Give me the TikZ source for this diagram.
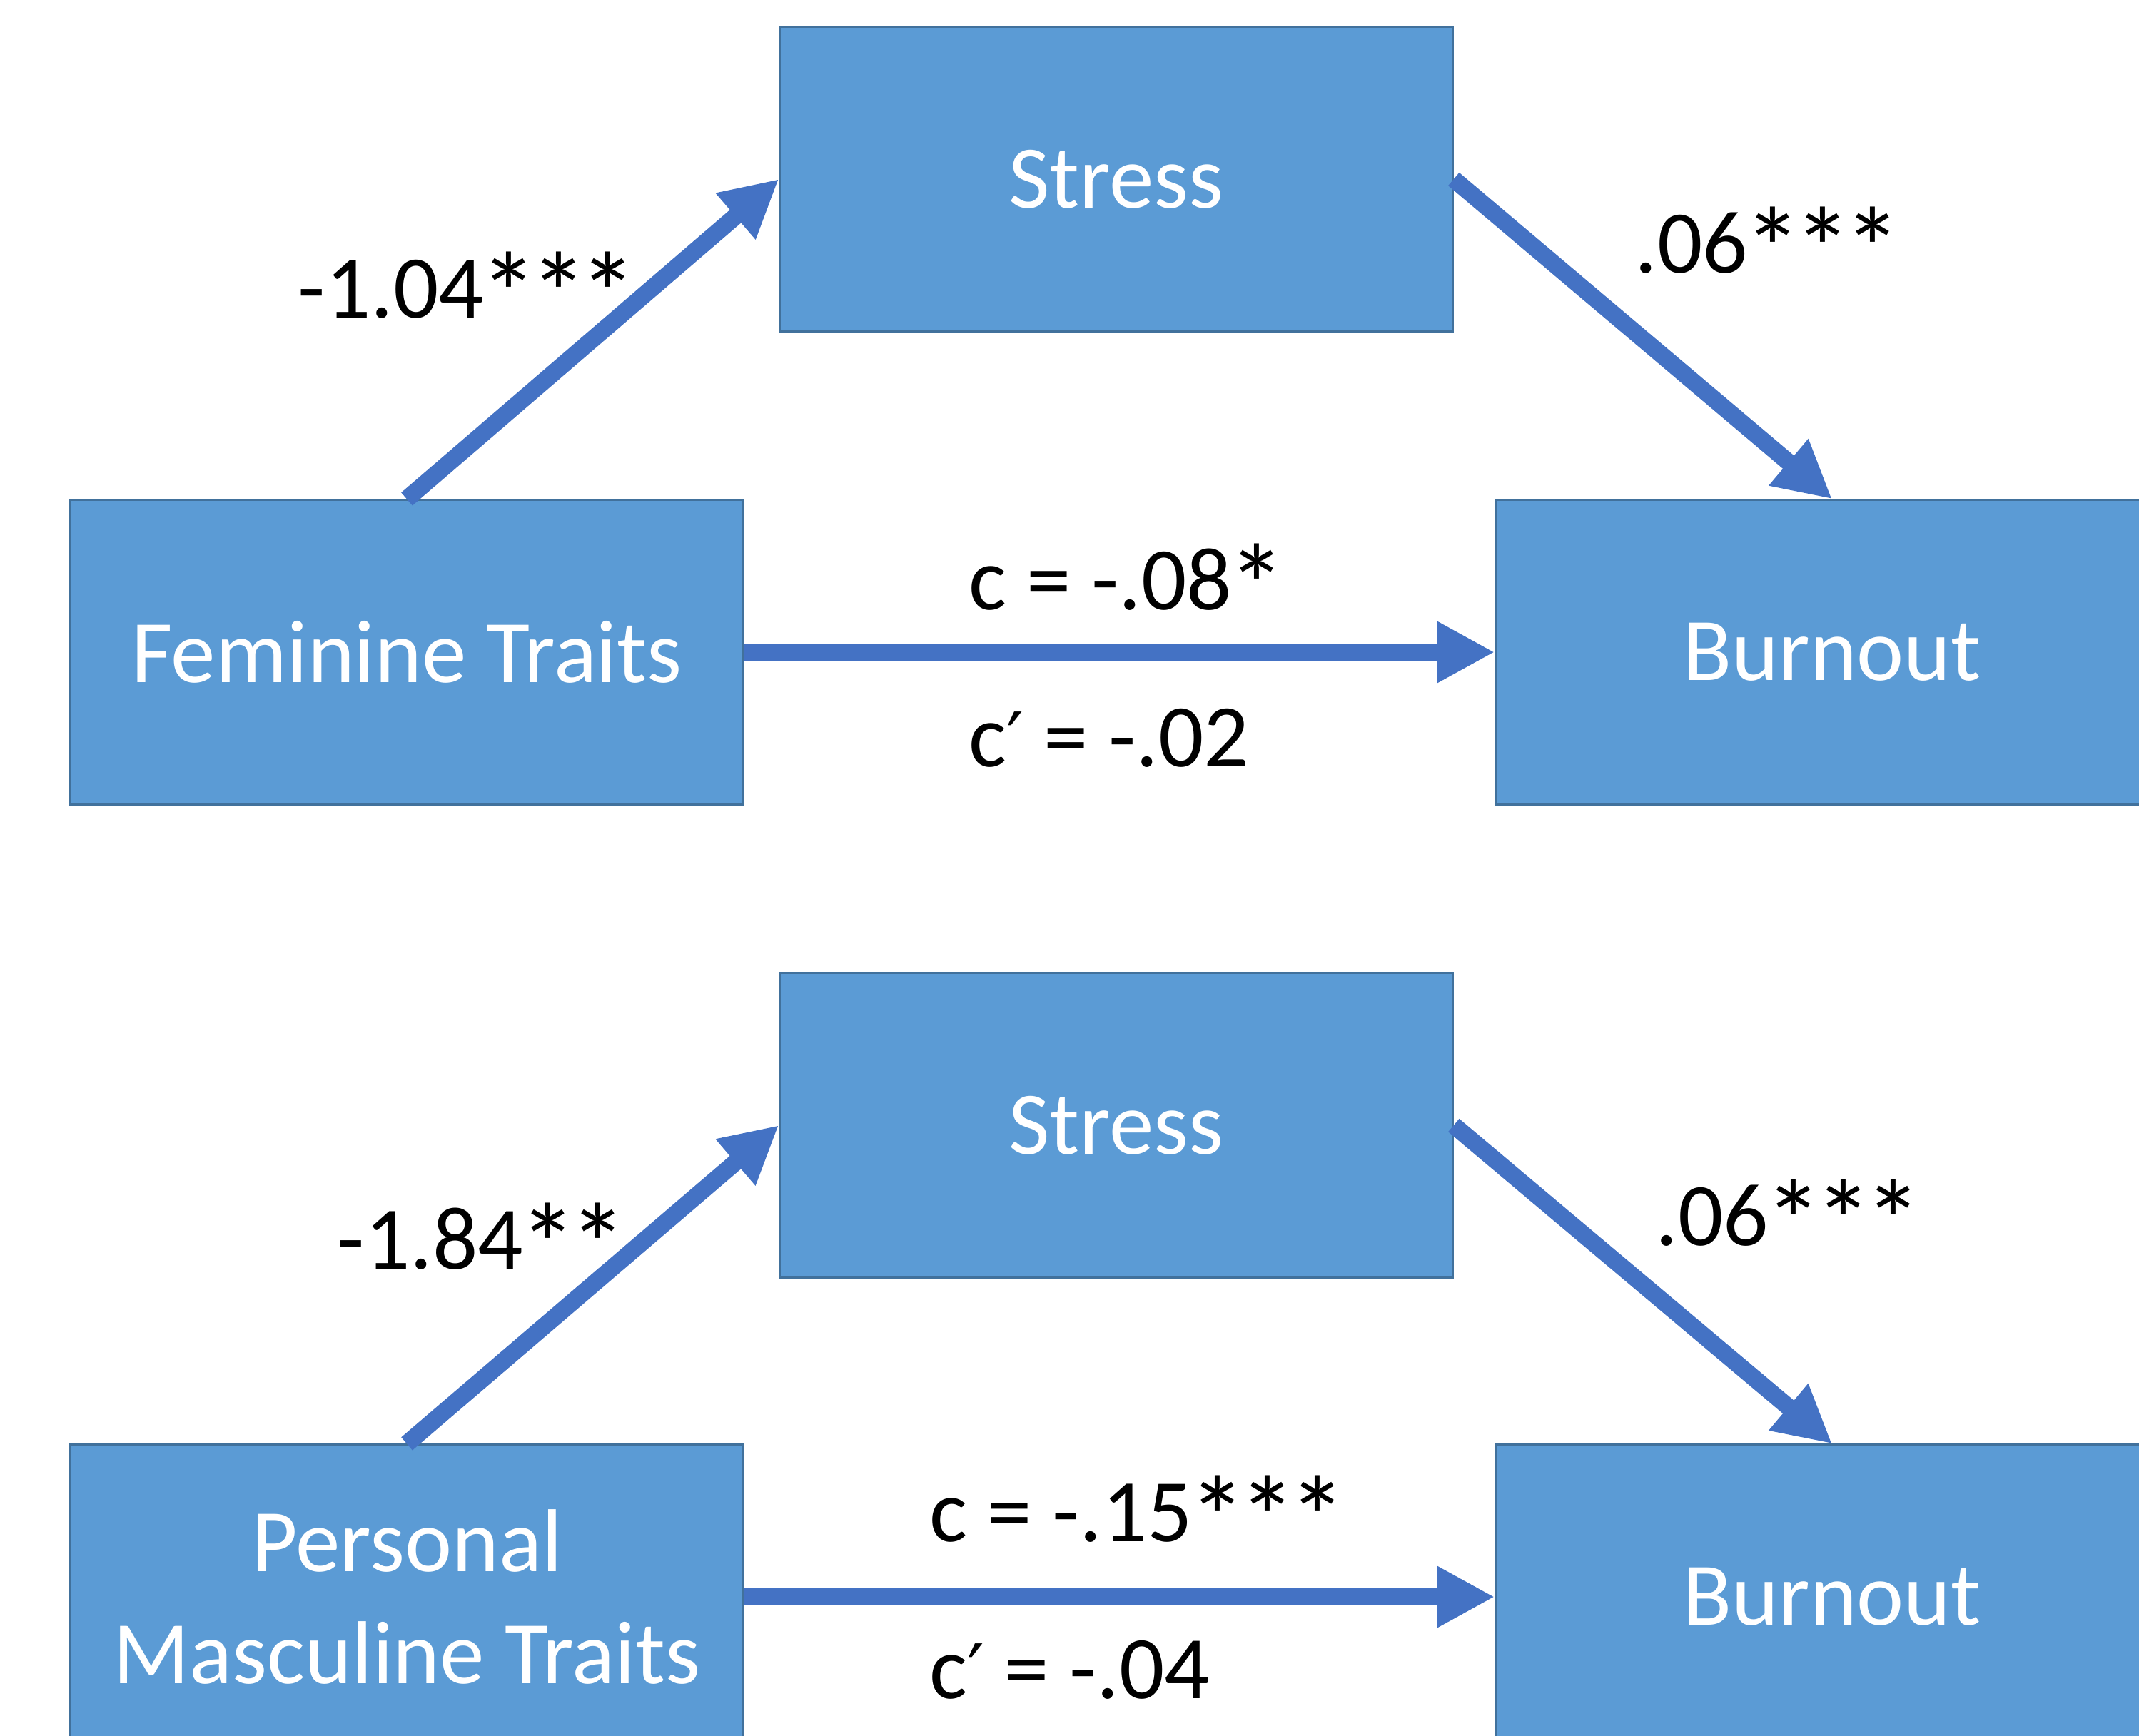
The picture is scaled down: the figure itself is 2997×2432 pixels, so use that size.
\documentclass[tikz,border=0pt]{standalone}
\usepackage{fontspec}
\setmainfont{Carlito}
\newfontfamily\primefont{DejaVu Sans}
\usetikzlibrary{arrows.meta}
\definecolor{boxfill}{HTML}{5B9BD5}
\definecolor{boxline}{HTML}{41719C}
\definecolor{arrowc}{HTML}{4472C4}
\newcommand{\st}{\kern-0.045em\raisebox{-0.19em}{\scalebox{1.3}{*}}\kern-0.045em}
\newcommand{\pr}{{\primefont\fontsize{30}{30}\selectfont ′}}
\begin{document}
\begin{tikzpicture}[x=0.01cm,y=-0.01cm,
  varbox/.style={draw=boxline, line width=0.03cm, fill=boxfill, text=white,
    minimum width=9.42cm, minimum height=4.26cm, inner sep=0pt, align=center,
    font=\fontsize{35.6}{44.6}\selectfont},
  patharrow/.style={draw=arrowc, line width=0.24cm, -{Triangle[length=0.8cm,width=0.8cm]}},
  coef/.style={anchor=base west, inner sep=0pt, font=\fontsize{35.6}{44.6}\selectfont}]
\useasboundingbox (0,0) rectangle (2997,2432);
\clip (0,0) rectangle (2997,2432);
\fill[white] (0,0) rectangle (2997,2432);
% top model
\node[varbox] (s1) at (1564,251) {Stress};
\node[varbox] (f1) at (570,914) {Feminine Traits};
\node[varbox] (b1) at (2567,914) {Burnout};
\draw[patharrow] (f1.north) -- (s1.west);
\draw[patharrow] (s1.east) -- (b1.north);
\draw[patharrow] (f1.east) -- (b1.west);
\node[coef] (l1) at (417,445) {-1.04\st\st\st};
\node[coef] (l2) at (2290,382) {.06\st\st\st};
\node[coef] (l3) at (1357,854) {c = -.08\st};
\node[coef] (l4) at (1357,1074) {c\pr{} = -.02};
% bottom model
\node[varbox] (s2) at (1564,1577) {Stress};
\node[varbox] (m2) at (570,2238) {Personal\\Masculine Traits};
\node[varbox] (b2) at (2567,2238) {Burnout};
\draw[patharrow] (m2.north) -- (s2.west);
\draw[patharrow] (s2.east) -- (b2.north);
\draw[patharrow] (m2.east) -- (b2.west);
\node[coef] (l5) at (472,1778) {-1.84\st\st};
\node[coef] (l6) at (2319,1745) {.06\st\st\st};
\node[coef] (l7) at (1302,2160) {c = -.15\st\st\st};
\node[coef] (l8) at (1302,2380) {c\pr{} = -.04};
\end{tikzpicture}
\end{document}
